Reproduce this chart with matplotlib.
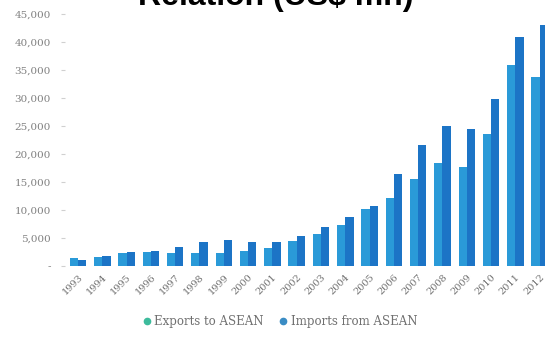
import matplotlib.pyplot as plt
import numpy as np

years = [str(y) for y in range(1993, 2013)]
exports = [1500, 1600, 2300, 2500, 2300, 2300, 2300, 2600, 3300, 4400,
           5700, 7300, 10100, 12200, 15600, 18400, 17700, 23500, 35900, 33800]
imports = [1100, 1700, 2500, 2700, 3400, 4300, 4600, 4200, 4300, 5300,
           7000, 8800, 10700, 16400, 21700, 25100, 24400, 29900, 40900, 43000]
y_ticks = [0, 5000, 10000, 15000, 20000, 25000, 30000, 35000, 40000, 45000]
y_labels = ['-', '5,000', '10,000', '15,000', '20,000', '25,000',
            '30,000', '35,000', '40,000', '45,000']

W, H = 545, 338
fig = plt.figure(figsize=(W / 100, H / 100), dpi=100)
ax = fig.add_axes([65 / W, (H - 266) / H, 480 / W, 263 / H])

x = np.arange(len(years))
bw = 0.34
ax.bar(x - bw / 2, exports, bw, color='#2a9ad8', label='Exports to ASEAN')
ax.bar(x + bw / 2, imports, bw, color='#1c74c6', label='Imports from ASEAN')

ax.set_xlim(-0.535, 19.22)
ax.set_ylim(0, 47000)
ax.set_yticks(y_ticks)
ax.set_yticklabels(y_labels)
ax.set_xticks(x)
ax.set_xticklabels(years, rotation=45, ha='right', rotation_mode='anchor')

for s in ax.spines.values():
    s.set_visible(False)
ax.tick_params(axis='y', length=3, color='#d0d0d0', labelsize=7.5,
               labelcolor='#808080', pad=7)
ax.tick_params(axis='x', length=0, labelsize=7, labelcolor='#707070', pad=5)
for t in ax.get_xticklabels() + ax.get_yticklabels():
    t.set_family('DejaVu Serif')

handles = [plt.Line2D([], [], marker='o', ls='', color='#3dbb9c', markersize=4.5),
           plt.Line2D([], [], marker='o', ls='', color='#3a8cc4', markersize=4.5)]
fig.legend(handles, ['Exports to ASEAN', 'Imports from ASEAN'],
           loc='center', bbox_to_anchor=(279 / W, 1 - 322 / H), ncol=2,
           frameon=False, handletextpad=0.1, handlelength=1.0,
           columnspacing=1.2,
           prop={'family': 'DejaVu Serif', 'size': 8.5}, labelcolor='#707070')

fig.text(276 / W, 1 - 5 / H, 'Relation (US$ mn)', ha='center', va='baseline',
         fontsize=23, fontweight='bold', family='Liberation Sans', color='black')

fig.savefig('out.png', dpi=100)
